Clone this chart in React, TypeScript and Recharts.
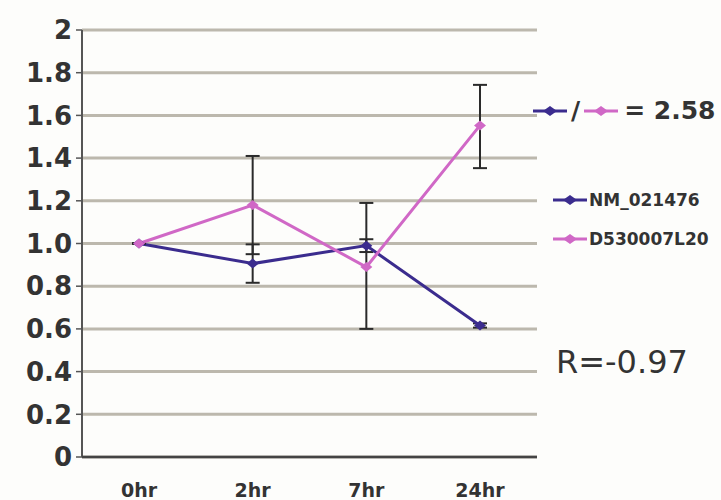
import React from 'react'
import { LineChart, Line, XAxis, YAxis, CartesianGrid, ErrorBar } from 'recharts'

// time points
const categories = ['0hr', '2hr', '7hr', '24hr']
// relative expression
const nmValues = [1.0, 0.906, 0.99, 0.616]
const dValues = [1.0, 1.18, 0.89, 1.553]
// error bars [down, up]
const nmErrors = [[0, 0], [0.09, 0.09], [0.03, 0.03], [0.01, 0.01]]
const dErrors = [[0, 0], [0.23, 0.23], [0.29, 0.3], [0.2, 0.19]]
const yTicks = [0, 0.2, 0.4, 0.6, 0.8, 1.0, 1.2, 1.4, 1.6, 1.8, 2]
const bandTicks = [0, 1, 2, 3, 4]

const BLUE = '#3b2c8e'
const PINK = '#d068c6'
const FONT = '"DejaVu Sans", Arial, sans-serif'

const data = categories.map((c, i) => ({
  cat: c,
  nm: nmValues[i],
  d: dValues[i],
  nmErr: nmErrors[i],
  dErr: dErrors[i],
}))

const fmtY = (v: number) => (v === 0 || v === 2 ? String(v) : v.toFixed(1))

const Diamond = (color: string) => (props: any) => {
  const { cx, cy } = props
  if (cx == null || cy == null) return null
  return <polygon points={`${cx - 6},${cy} ${cx},${cy - 5} ${cx + 6},${cy} ${cx},${cy + 5}`} fill={color} />
}

const Icon = ({ color }: { color: string }) => (
  <svg width={34} height={12} style={{ display: 'block' }}>
    <line x1={0} y1={6} x2={34} y2={6} stroke={color} strokeWidth={3} />
    <polygon points="10,6 17,1 24,6 17,11" fill={color} />
  </svg>
)

export default function App() {
  return (
    <div style={{ position: 'absolute', left: 0, top: 0, width: 721, height: 500, background: '#fdfdfb', fontFamily: FONT }}>
      <LineChart width={721} height={500} data={data} margin={{ top: 30, right: 184, left: 0, bottom: 0 }}>
        <CartesianGrid vertical={false} stroke="#bcb8ad" strokeWidth={3} />
        <YAxis
          domain={[0, 2]}
          ticks={yTicks}
          interval={0}
          tickFormatter={fmtY}
          width={82}
          axisLine={{ stroke: '#555', strokeWidth: 2 }}
          tickLine={{ stroke: '#555', strokeWidth: 1.5 }}
          tickSize={6}
          tickMargin={4}
          tick={{ fill: '#333', fontSize: 26, fontWeight: 700, fontFamily: FONT }}
        />
        <XAxis
          xAxisId="bands"
          type="number"
          domain={[0, 4]}
          ticks={bandTicks}
          height={1}
          tick={false}
          mirror
          tickSize={6}
          axisLine={{ stroke: '#444', strokeWidth: 2.5 }}
          tickLine={{ stroke: '#444', strokeWidth: 2 }}
        />
        <XAxis
          xAxisId="labels"
          dataKey="cat"
          padding={{ left: 57, right: 57 }}
          height={43}
          axisLine={false}
          tickLine={false}
          tickMargin={21}
          tick={{ fill: '#333', fontSize: 19, fontWeight: 700, fontFamily: FONT }}
        />
        <Line
          xAxisId="labels"
          type="linear"
          dataKey="nm"
          stroke={BLUE}
          strokeWidth={3}
          dot={Diamond(BLUE)}
          activeDot={false}
          isAnimationActive={false}
        >
          <ErrorBar dataKey="nmErr" width={7} strokeWidth={2} stroke="#2a2a2a" direction="y" />
        </Line>
        <Line
          xAxisId="labels"
          type="linear"
          dataKey="d"
          stroke={PINK}
          strokeWidth={3}
          dot={Diamond(PINK)}
          activeDot={false}
          isAnimationActive={false}
        >
          <ErrorBar dataKey="dErr" width={7} strokeWidth={2} stroke="#2a2a2a" direction="y" />
        </Line>
      </LineChart>

      <div style={{ position: 'absolute', left: 533, top: 96, display: 'flex', alignItems: 'center', color: '#333', fontWeight: 700, fontSize: 25 }}>
        <Icon color={BLUE} />
        <span style={{ margin: '0 4px' }}>/</span>
        <Icon color={PINK} />
        <span style={{ marginLeft: 6 }}>= 2.58</span>
      </div>
      <div style={{ position: 'absolute', left: 553, top: 186, color: '#333', fontWeight: 700, fontSize: 17 }}>
        <div style={{ display: 'flex', alignItems: 'center', height: 28 }}>
          <Icon color={BLUE} />
          <span style={{ marginLeft: 2 }}>NM_021476</span>
        </div>
        <div style={{ display: 'flex', alignItems: 'center', height: 28, marginTop: 11 }}>
          <Icon color={PINK} />
          <span style={{ marginLeft: 2 }}>D530007L20</span>
        </div>
      </div>
      <div style={{ position: 'absolute', left: 556, top: 343, color: '#333', fontSize: 32 }}>R=-0.97</div>
    </div>
  )
}
